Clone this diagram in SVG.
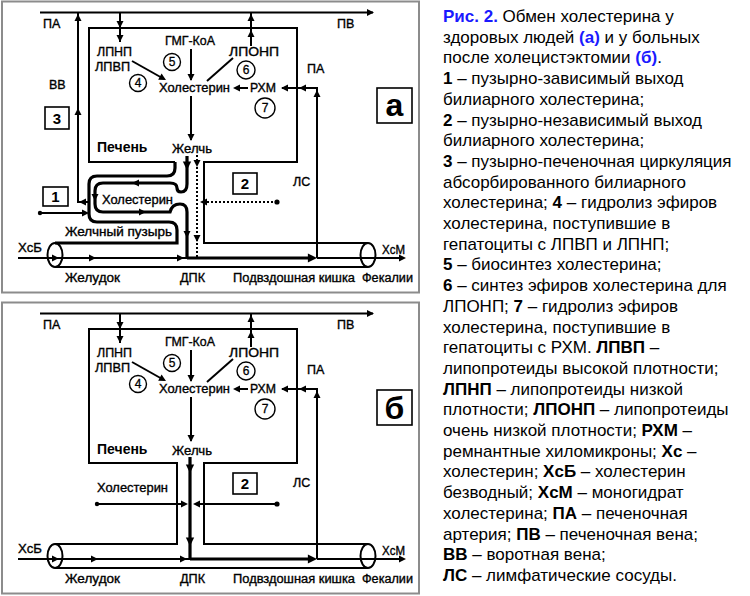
<svg xmlns="http://www.w3.org/2000/svg" xmlns:xlink="http://www.w3.org/1999/xlink" width="750" height="596" viewBox="0 0 750 596">
<style>
.frame{fill:none;stroke:#8c8c8c;stroke-width:2}
.ln{fill:none;stroke:#000;stroke-width:2}
.th{fill:none;stroke:#000;stroke-width:3.2}
.dt{fill:none;stroke:#000;stroke-width:2;stroke-dasharray:2 2}
.box{fill:#fff;stroke:#000;stroke-width:1.6}
.lb{font-family:"Liberation Sans",Arial,sans-serif;font-size:12.5px;fill:#000;stroke:#000;stroke-width:0.35}
.bd{font-family:"Liberation Sans",Arial,sans-serif;font-weight:bold;fill:#000}
.num{font-family:"Liberation Sans",Arial,sans-serif;font-size:12px;fill:#000;text-anchor:middle;stroke:#000;stroke-width:0.3}
.circ{fill:#fff;stroke:#000;stroke-width:1.4}
.cap{font-family:"Liberation Sans",Arial,sans-serif;font-size:17px;fill:#000}
.b{font-weight:bold}
.bl{font-weight:bold;fill:#1a1aff}
</style>
<defs>
<path id="ah" d="M0,0 L-7,-3.5 L-7,3.5 Z" fill="#000"/>
</defs>

<!-- ===== Panel a ===== -->
<rect class="frame" x="2" y="1.5" width="417" height="291"/>
<g id="connectors-a">
  <path class="ln" d="M40,12.5 H373"/>
  <use xlink:href="#ah" transform="translate(374,12.5)"/>
  <path class="ln" d="M78,13 V202 H89"/>
  <use xlink:href="#ah" transform="translate(78,14) rotate(-90)"/>
  <use xlink:href="#ah" transform="translate(78,108) rotate(-90)"/>
  <use xlink:href="#ah" transform="translate(79,202) rotate(180)"/>
  <path class="ln" d="M120,13 V42"/>
  <use xlink:href="#ah" transform="translate(120,28) rotate(90)"/>
  <use xlink:href="#ah" transform="translate(120,42) rotate(90)"/>
  <path class="ln" d="M251,46 V13"/>
  <use xlink:href="#ah" transform="translate(251,14) rotate(-90)"/>
  <use xlink:href="#ah" transform="translate(251,30) rotate(-90)"/>
  <path class="ln" d="M132,61 L164,79"/>
  <use xlink:href="#ah" transform="translate(166,80) rotate(29)"/>
  <path class="ln" d="M191,49 V80"/>
  <use xlink:href="#ah" transform="translate(191,81) rotate(90)"/>
  <path class="ln" d="M207,81 L233,58"/>
  <path class="ln" d="M248,88 H235"/>
  <use xlink:href="#ah" transform="translate(233,88) rotate(180)"/>
  <path class="ln" d="M317,258 V88 H282"/>
  <use xlink:href="#ah" transform="translate(317,90) rotate(-90)"/>
  <use xlink:href="#ah" transform="translate(299,88) rotate(180)"/>
  <use xlink:href="#ah" transform="translate(281,88) rotate(180)"/>
  <path class="ln" d="M191,96 V140"/>
  <use xlink:href="#ah" transform="translate(191,141) rotate(90)"/>
  <path class="ln" d="M175,162 H89 V28 H297 V162 H204 V243 H368"/>
  <path class="th" d="M175,162 V168 Q175,176 167,176 H97 Q89,176 89,184 V214 Q89,222 97,222 H169 Q177,222 177,230 V243 H55"/>
  <path class="th" d="M187,156 V184 Q187,192 181,192 Q177,192 177,188 Q177,183 170,183 H103 Q95,183 95,191 V204 Q95,212 103,212 H170 Q172,204 180,204 Q187,204 187,212 V258"/>
  <use xlink:href="#ah" transform="translate(187,170) rotate(90) scale(1.2)"/>
  <use xlink:href="#ah" transform="translate(132,183) rotate(180)"/>
  <use xlink:href="#ah" transform="translate(95,201) rotate(90)"/>
  <use xlink:href="#ah" transform="translate(146,212)"/>
  <use xlink:href="#ah" transform="translate(187,238) rotate(90)"/>
  <path class="dt" d="M197,155 V257"/>
  <use xlink:href="#ah" transform="translate(197,167) rotate(90)"/>
  <use xlink:href="#ah" transform="translate(197,242) rotate(90)"/>
  <path class="dt" d="M277,202 H203"/>
  <circle cx="277" cy="202" r="2.6"/>
  <use xlink:href="#ah" transform="translate(200,202) rotate(180)"/>
  <path class="ln" d="M40,213 H86"/>
  <circle cx="40" cy="213" r="2.2"/>
  <use xlink:href="#ah" transform="translate(89,213)"/>
  <path class="ln" d="M55,267 H368"/>
  <ellipse class="ln" cx="55" cy="255" rx="7.5" ry="12"/>
  <ellipse class="ln" cx="368" cy="255" rx="7.5" ry="12"/>
  <path class="ln" d="M18,258 H187"/>
  <use xlink:href="#ah" transform="translate(59,258)"/>
  <use xlink:href="#ah" transform="translate(96,258)"/>
  <use xlink:href="#ah" transform="translate(184,258)"/>
  <path class="th" d="M187,258 H312"/>
  <use xlink:href="#ah" transform="translate(317,258) scale(1.3)"/>
  <path class="ln" d="M317,258 H402"/>
  <use xlink:href="#ah" transform="translate(406,258)"/>
</g>
<g id="nodes-a">
  <g id="a-PA"><text class="lb" x="43" y="28">ПА</text></g>
  <g id="a-PV"><text class="lb" x="337" y="28">ПВ</text></g>
  <g id="a-VV"><text class="lb" x="49" y="89">ВВ</text></g>
  <g id="a-box3"><rect class="box" x="45" y="107" width="24" height="22"/><text class="bd" font-size="15" x="57" y="124" text-anchor="middle">3</text></g>
  <g id="a-box1"><rect class="box" x="43" y="187" width="25" height="19"/><text class="bd" font-size="15" x="55.5" y="202" text-anchor="middle">1</text></g>
  <g id="a-label"><rect class="box" x="377" y="88" width="35" height="35"/><text class="bd" font-size="32" x="394.5" y="116" text-anchor="middle">а</text></g>
  <g id="a-LPNP"><text class="lb" x="97" y="56" textLength="35" lengthAdjust="spacingAndGlyphs">ЛПНП</text><text class="lb" x="95" y="71" textLength="35" lengthAdjust="spacingAndGlyphs">ЛПВП</text></g>
  <g id="a-HMG"><text class="lb" x="165" y="45" textLength="50" lengthAdjust="spacingAndGlyphs">ГМГ-КоА</text></g>
  <g id="a-c5"><circle class="circ" cx="172" cy="62" r="8.5"/><text class="num" x="172" y="66">5</text></g>
  <g id="a-c4"><circle class="circ" cx="138" cy="83" r="8.5"/><text class="num" x="138" y="87">4</text></g>
  <g id="a-chol"><text class="lb" x="159" y="92" textLength="71" lengthAdjust="spacingAndGlyphs">Холестерин</text></g>
  <g id="a-LPONP"><text class="lb" x="229" y="56" textLength="50" lengthAdjust="spacingAndGlyphs">ЛПОНП</text></g>
  <g id="a-c6"><circle class="circ" cx="246" cy="70" r="9"/><text class="num" x="246" y="74">6</text></g>
  <g id="a-RHM"><text class="lb" x="250" y="92" textLength="26" lengthAdjust="spacingAndGlyphs">РХМ</text></g>
  <g id="a-c7"><circle class="circ" cx="265" cy="108" r="10"/><text class="num" x="265" y="112">7</text></g>
  <g id="a-PA2"><text class="lb" x="307" y="73">ПА</text></g>
  <g id="a-liver"><text class="bd" font-size="14" x="97" y="152">Печень</text></g>
  <g id="a-bile"><text class="lb" x="172" y="153" textLength="40" lengthAdjust="spacingAndGlyphs">Желчь</text></g>
  <g id="a-box2"><rect class="box" x="233" y="173" width="24" height="21"/><text class="bd" font-size="15" x="245" y="189" text-anchor="middle">2</text></g>
  <g id="a-LS"><text class="lb" x="293" y="186">ЛС</text></g>
  <g id="a-gbchol"><text class="lb" x="102" y="204" textLength="71" lengthAdjust="spacingAndGlyphs">Холестерин</text></g>
  <g id="a-gb"><text class="lb" x="65" y="236" textLength="107" lengthAdjust="spacingAndGlyphs">Желчный пузырь</text></g>
  <g id="a-XcB"><text class="lb" x="18" y="252" textLength="24" lengthAdjust="spacingAndGlyphs">ХсБ</text></g>
  <g id="a-XcM"><text class="lb" x="382" y="254" textLength="23" lengthAdjust="spacingAndGlyphs">ХсМ</text></g>
  <g id="a-stom"><text class="lb" x="65" y="282" textLength="55" lengthAdjust="spacingAndGlyphs">Желудок</text></g>
  <g id="a-dpk"><text class="lb" x="180" y="282" textLength="25" lengthAdjust="spacingAndGlyphs">ДПК</text></g>
  <g id="a-ileum"><text class="lb" x="233" y="282" textLength="122" lengthAdjust="spacingAndGlyphs">Подвздошная кишка</text></g>
  <g id="a-feces"><text class="lb" x="362" y="282" textLength="51" lengthAdjust="spacingAndGlyphs">Фекалии</text></g>
</g>

<!-- ===== Panel b ===== -->
<rect class="frame" x="2" y="302.5" width="417" height="291"/>
<g id="connectors-b">
  <path class="ln" d="M40,313.5 H373"/>
  <use xlink:href="#ah" transform="translate(374,313.5)"/>
  <path class="ln" d="M120,314 V343"/>
  <use xlink:href="#ah" transform="translate(120,329) rotate(90)"/>
  <use xlink:href="#ah" transform="translate(120,343) rotate(90)"/>
  <path class="ln" d="M251,347 V314"/>
  <use xlink:href="#ah" transform="translate(251,315) rotate(-90)"/>
  <use xlink:href="#ah" transform="translate(251,331) rotate(-90)"/>
  <path class="ln" d="M132,362 L164,380"/>
  <use xlink:href="#ah" transform="translate(166,381) rotate(29)"/>
  <path class="ln" d="M191,350 V381"/>
  <use xlink:href="#ah" transform="translate(191,382) rotate(90)"/>
  <path class="ln" d="M207,382 L233,359"/>
  <path class="ln" d="M248,389 H235"/>
  <use xlink:href="#ah" transform="translate(233,389) rotate(180)"/>
  <path class="ln" d="M317,559 V389 H282"/>
  <use xlink:href="#ah" transform="translate(317,391) rotate(-90)"/>
  <use xlink:href="#ah" transform="translate(299,389) rotate(180)"/>
  <use xlink:href="#ah" transform="translate(281,389) rotate(180)"/>
  <path class="ln" d="M191,397 V441"/>
  <use xlink:href="#ah" transform="translate(191,442) rotate(90)"/>
  <path class="ln" d="M55,544 H177 V463 H89 V329 H297 V463 H204 V544 H368"/>
  <path class="th" d="M190,457 V559"/>
  <use xlink:href="#ah" transform="translate(190,473) rotate(90) scale(1.2)"/>
  <use xlink:href="#ah" transform="translate(190,546) rotate(90) scale(1.2)"/>
  <path class="ln" d="M97,504 H184"/>
  <circle cx="97" cy="504" r="2.2"/>
  <use xlink:href="#ah" transform="translate(188,504)"/>
  <path class="ln" d="M277,504 H197"/>
  <circle cx="277" cy="504" r="2.6"/>
  <use xlink:href="#ah" transform="translate(193,504) rotate(180)"/>
  <path class="ln" d="M55,568 H368"/>
  <ellipse class="ln" cx="55" cy="556" rx="7.5" ry="12"/>
  <ellipse class="ln" cx="368" cy="556" rx="7.5" ry="12"/>
  <path class="ln" d="M18,559 H190"/>
  <use xlink:href="#ah" transform="translate(59,559)"/>
  <use xlink:href="#ah" transform="translate(98,559)"/>
  <use xlink:href="#ah" transform="translate(187,559)"/>
  <path class="th" d="M190,559 H312"/>
  <use xlink:href="#ah" transform="translate(317,559) scale(1.3)"/>
  <path class="ln" d="M317,559 H402"/>
  <use xlink:href="#ah" transform="translate(406,559)"/>
</g>
<g id="nodes-b">
  <g id="b-PA"><text class="lb" x="43" y="329">ПА</text></g>
  <g id="b-PV"><text class="lb" x="337" y="329">ПВ</text></g>
  <g id="b-label"><rect class="box" x="377" y="390" width="35" height="35"/><text class="bd" font-size="32" x="394.5" y="419" text-anchor="middle">б</text></g>
  <g id="b-LPNP"><text class="lb" x="97" y="357" textLength="35" lengthAdjust="spacingAndGlyphs">ЛПНП</text><text class="lb" x="95" y="372" textLength="35" lengthAdjust="spacingAndGlyphs">ЛПВП</text></g>
  <g id="b-HMG"><text class="lb" x="165" y="346" textLength="50" lengthAdjust="spacingAndGlyphs">ГМГ-КоА</text></g>
  <g id="b-c5"><circle class="circ" cx="172" cy="363" r="8.5"/><text class="num" x="172" y="367">5</text></g>
  <g id="b-c4"><circle class="circ" cx="138" cy="384" r="8.5"/><text class="num" x="138" y="388">4</text></g>
  <g id="b-chol"><text class="lb" x="159" y="393" textLength="71" lengthAdjust="spacingAndGlyphs">Холестерин</text></g>
  <g id="b-LPONP"><text class="lb" x="229" y="357" textLength="50" lengthAdjust="spacingAndGlyphs">ЛПОНП</text></g>
  <g id="b-c6"><circle class="circ" cx="246" cy="371" r="9"/><text class="num" x="246" y="375">6</text></g>
  <g id="b-RHM"><text class="lb" x="250" y="393" textLength="26" lengthAdjust="spacingAndGlyphs">РХМ</text></g>
  <g id="b-c7"><circle class="circ" cx="265" cy="409" r="10"/><text class="num" x="265" y="413">7</text></g>
  <g id="b-PA2"><text class="lb" x="307" y="374">ПА</text></g>
  <g id="b-liver"><text class="bd" font-size="14" x="97" y="454">Печень</text></g>
  <g id="b-bile"><text class="lb" x="172" y="455" textLength="40" lengthAdjust="spacingAndGlyphs">Желчь</text></g>
  <g id="b-cholout"><text class="lb" x="97" y="492" textLength="71" lengthAdjust="spacingAndGlyphs">Холестерин</text></g>
  <g id="b-box2"><rect class="box" x="233" y="473" width="24" height="21"/><text class="bd" font-size="15" x="245" y="489" text-anchor="middle">2</text></g>
  <g id="b-LS"><text class="lb" x="293" y="487">ЛС</text></g>
  <g id="b-XcB"><text class="lb" x="18" y="553" textLength="24" lengthAdjust="spacingAndGlyphs">ХсБ</text></g>
  <g id="b-XcM"><text class="lb" x="382" y="555" textLength="23" lengthAdjust="spacingAndGlyphs">ХсМ</text></g>
  <g id="b-stom"><text class="lb" x="65" y="583" textLength="55" lengthAdjust="spacingAndGlyphs">Желудок</text></g>
  <g id="b-dpk"><text class="lb" x="180" y="583" textLength="25" lengthAdjust="spacingAndGlyphs">ДПК</text></g>
  <g id="b-ileum"><text class="lb" x="233" y="583" textLength="122" lengthAdjust="spacingAndGlyphs">Подвздошная кишка</text></g>
  <g id="b-feces"><text class="lb" x="362" y="583" textLength="51" lengthAdjust="spacingAndGlyphs">Фекалии</text></g>
</g>

<!-- ===== Caption ===== -->
<g id="caption">
<text class="cap" x="443" y="22"><tspan class="bl">Рис. 2.</tspan> Обмен холестерина у</text>
<text class="cap" x="443" y="42.7">здоровых людей <tspan class="bl">(а)</tspan> и у больных</text>
<text class="cap" x="443" y="63.4">после холецистэктомии <tspan class="bl">(б)</tspan>.</text>
<text class="cap" x="443" y="84.1"><tspan class="b">1</tspan> – пузырно-зависимый выход</text>
<text class="cap" x="443" y="104.8">билиарного холестерина;</text>
<text class="cap" x="443" y="125.5"><tspan class="b">2</tspan> – пузырно-независимый выход</text>
<text class="cap" x="443" y="146.2">билиарного холестерина;</text>
<text class="cap" x="443" y="166.9"><tspan class="b">3</tspan> – пузырно-печеночная циркуляция</text>
<text class="cap" x="443" y="187.6">абсорбированного билиарного</text>
<text class="cap" x="443" y="208.3">холестерина; <tspan class="b">4</tspan> – гидролиз эфиров</text>
<text class="cap" x="443" y="229">холестерина, поступившие в</text>
<text class="cap" x="443" y="249.7">гепатоциты с ЛПВП и ЛПНП;</text>
<text class="cap" x="443" y="270.4"><tspan class="b">5</tspan> – биосинтез холестерина;</text>
<text class="cap" x="443" y="291.1"><tspan class="b">6</tspan> – синтез эфиров холестерина для</text>
<text class="cap" x="443" y="311.8">ЛПОНП; <tspan class="b">7</tspan> – гидролиз эфиров</text>
<text class="cap" x="443" y="332.5">холестерина, поступившие в</text>
<text class="cap" x="443" y="353.2">гепатоциты с РХМ. <tspan class="b">ЛПВП</tspan> –</text>
<text class="cap" x="443" y="373.9">липопротеиды высокой плотности;</text>
<text class="cap" x="443" y="394.6"><tspan class="b">ЛПНП</tspan> – липопротеиды низкой</text>
<text class="cap" x="443" y="415.3">плотности; <tspan class="b">ЛПОНП</tspan> – липопротеиды</text>
<text class="cap" x="443" y="436">очень низкой плотности; <tspan class="b">РХМ</tspan> –</text>
<text class="cap" x="443" y="456.7">ремнантные хиломикроны; <tspan class="b">Хс</tspan> –</text>
<text class="cap" x="443" y="477.4">холестерин; <tspan class="b">ХсБ</tspan> – холестерин</text>
<text class="cap" x="443" y="498.1">безводный; <tspan class="b">ХсМ</tspan> – моногидрат</text>
<text class="cap" x="443" y="518.8">холестерина; <tspan class="b">ПА</tspan> – печеночная</text>
<text class="cap" x="443" y="539.5">артерия; <tspan class="b">ПВ</tspan> – печеночная вена;</text>
<text class="cap" x="443" y="560.2"><tspan class="b">ВВ</tspan> – воротная вена;</text>
<text class="cap" x="443" y="580.9"><tspan class="b">ЛС</tspan> – лимфатические сосуды.</text>
</g>
</svg>
